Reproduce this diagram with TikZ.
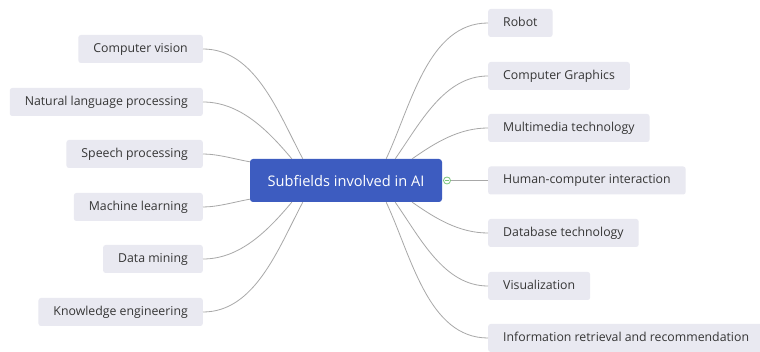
\documentclass[tikz,border=0pt]{standalone}
\usepackage{fontspec}
\setmainfont{Open Sans}
\usetikzlibrary{calc}
\definecolor{boxfill}{HTML}{E9E9F1}
\definecolor{txt}{HTML}{353535}
\definecolor{linec}{HTML}{A8A8A8}
\definecolor{mainblue}{HTML}{3D5CC0}
\definecolor{mkgreen}{HTML}{7CC47A}
\tikzset{
  leaf/.style={fill=boxfill, rounded corners=2.5pt, text=txt, font=\fontsize{12.3}{14}\selectfont,
    minimum height=28pt, inner xsep=15pt, inner ysep=0pt, text height=9pt, text depth=2.5pt},
  lleaf/.style={leaf, anchor=east},
  rleaf/.style={leaf, anchor=west},
  mainbox/.style={fill=mainblue, rounded corners=3pt, text=white, font=\fontsize{14.6}{16}\selectfont,
    minimum width=192pt, minimum height=43pt, inner sep=0pt},
  conn/.style={draw=linec, line width=0.8pt},
}
\begin{document}
\begin{tikzpicture}[x=1pt,y=-1pt]
\useasboundingbox (0,0) rectangle (760,352);
\fill[white] (0,0) rectangle (760,352);

\node[mainbox] (c) at (346,180.5) {Subfields involved in AI};

% left leaves
\node[lleaf] (cv) at (203,49) {Computer vision};
\node[lleaf] (nlp) at (203,102) {Natural language processing};
\node[lleaf] (sp) at (203,154) {Speech processing};
\node[lleaf] (ml) at (203,207) {Machine learning};
\node[lleaf] (dm) at (203,259) {Data mining};
\node[lleaf] (ke) at (203,312) {Knowledge engineering};

% right leaves
\node[rleaf] (rb) at (488,23) {Robot};
\node[rleaf] (cg) at (488,76) {Computer Graphics};
\node[rleaf] (mm) at (488,128) {Multimedia technology};
\node[rleaf] (hc) at (488,180.5) {Human-computer interaction};
\node[rleaf] (db) at (488,233) {Database technology};
\node[rleaf] (vi) at (488,286) {Visualization};
\node[rleaf] (ir) at (488,338) {Information retrieval and recommendation};

% attachment points on the central box
\coordinate (lt1) at ($(c.north west)+(53,0)$);
\coordinate (lt2) at ($(c.north west)+(42,0)$);
\coordinate (lt3) at ($(c.north west)+(0,3)$);
\coordinate (lb3) at ($(c.south west)+(0,-3)$);
\coordinate (lb2) at ($(c.south west)+(42,0)$);
\coordinate (lb1) at ($(c.south west)+(53,0)$);
\coordinate (rt1) at ($(c.north east)+(-56,0)$);
\coordinate (rt2) at ($(c.north east)+(-47,0)$);
\coordinate (rt3) at ($(c.north east)+(-30,0)$);
\coordinate (rb3) at ($(c.south east)+(-30,0)$);
\coordinate (rb2) at ($(c.south east)+(-47,0)$);
\coordinate (rb1) at ($(c.south east)+(-56,0)$);
\coordinate (hm) at (447,180.5);

\draw[conn] (cv.east) to[out=0,in=118,looseness=0.9] (lt1);
\draw[conn] (nlp.east) to[out=0,in=130,looseness=0.9] (lt2);
\draw[conn] (sp.east) to[out=0,in=170,looseness=0.8] (lt3);
\draw[conn] (ml.east) to[out=0,in=190,looseness=0.8] (lb3);
\draw[conn] (dm.east) to[out=0,in=230,looseness=0.9] (lb2);
\draw[conn] (ke.east) to[out=0,in=242,looseness=0.9] (lb1);

\draw[conn] (rt1) to[out=65,in=180,looseness=0.9] (rb.west);
\draw[conn] (rt2) to[out=55,in=180,looseness=0.9] (cg.west);
\draw[conn] (rt3) to[out=35,in=180,looseness=0.9] (mm.west);
\draw[conn] (hm) -- (hc.west);
\draw[conn] (rb3) to[out=-35,in=180,looseness=0.9] (db.west);
\draw[conn] (rb2) to[out=-55,in=180,looseness=0.9] (vi.west);
\draw[conn] (rb1) to[out=-65,in=180,looseness=0.9] (ir.west);

\node[circle, draw=mkgreen, fill=white, line width=0.8pt, minimum size=7pt, inner sep=0pt] (hmk) at (hm) {};
\draw[mkgreen, line width=0.7pt] ($(hmk.center)+(-2,0)$) -- ($(hmk.center)+(2,0)$);
\end{tikzpicture}
\end{document}
